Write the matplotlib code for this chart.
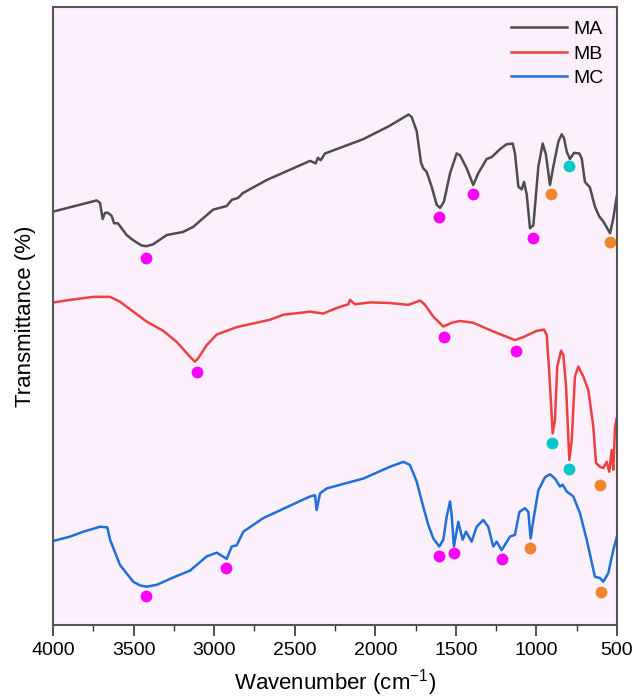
import matplotlib
matplotlib.use("Agg")
import matplotlib.pyplot as plt
from matplotlib.ticker import MultipleLocator

plt.rcParams['font.family'] = ['Liberation Sans', 'DejaVu Sans']

# ---- MA spectrum ----
ma_wn = [3998, 3729, 3708, 3692, 3677, 3659, 3636, 3621, 3597, 3543, 3510, 3481, 3450, 3419, 3379, 3294,
         3193, 3131, 3007, 2922, 2891, 2852, 2821, 2674, 2405, 2370, 2356, 2339, 2312, 2076,
         1909, 1794, 1774, 1743, 1716, 1702, 1681, 1650, 1619, 1598, 1574, 1536, 1495, 1474,
         1433, 1392, 1361, 1309, 1278, 1226, 1185, 1147, 1133, 1112, 1091, 1077, 1060, 1040,
         1019, 988, 961, 941, 916, 895, 864, 843, 829, 812, 792, 767, 734, 719, 699, 668,
         637, 610, 585, 543, 523, 502]
ma_t = [66.9, 68.7, 68.3, 65.7, 66.7, 66.7, 66.2, 65.0, 65.0, 63.1, 62.4, 61.9, 61.4, 61.3, 61.6, 63.1,
        63.6, 64.4, 67.2, 67.8, 68.8, 69.1, 69.9, 72.0, 75.1, 74.7, 75.6, 75.2, 76.3, 78.6,
        80.8, 82.6, 82.2, 79.9, 74.8, 73.9, 73.3, 70.9, 68.0, 67.5, 68.5, 73.1, 76.3, 76.0,
        73.9, 71.2, 73.1, 75.4, 75.7, 77.0, 77.8, 77.9, 76.3, 70.9, 70.5, 71.7, 69.6, 64.2,
        64.7, 74.2, 77.9, 76.1, 71.2, 74.2, 78.2, 79.4, 78.8, 76.6, 75.4, 76.4, 76.3, 75.5,
        71.7, 70.8, 67.7, 66.1, 65.3, 63.4, 65.8, 69.3]

# ---- MB spectrum ----
mb_wn = [3998, 3895, 3750, 3646, 3584, 3419, 3316, 3232, 3150, 3119, 3098, 3046, 2984, 2860,
         2653, 2571, 2405, 2323, 2239, 2167, 2157, 2126, 2033, 1909, 1795, 1722, 1691, 1640,
         1578, 1526, 1474, 1392, 1268, 1133, 1081, 998, 953, 936, 920, 899, 885, 871, 847,
         833, 816, 796, 781, 761, 740, 709, 678, 647, 630, 606, 585, 564, 548, 533, 523,
         512, 502]
mb_t = [52.2, 52.6, 53.1, 53.1, 52.3, 49.1, 47.6, 45.8, 43.4, 42.6, 43.2, 45.3, 47.0, 48.2,
        49.4, 50.2, 50.7, 50.4, 51.3, 51.9, 52.6, 51.9, 52.2, 52.1, 51.8, 52.5, 51.8, 49.9,
        48.3, 48.9, 49.2, 48.9, 47.5, 46.1, 46.6, 47.6, 47.8, 46.9, 40.7, 31.0, 33.2, 41.8,
        44.4, 43.7, 38.6, 26.7, 29.9, 40.2, 41.8, 40.2, 38.0, 32.1, 26.2, 25.6, 25.4, 26.4,
        24.8, 28.3, 25.1, 32.1, 33.4]

# ---- MC spectrum ----
mc_wn = [3998, 3895, 3812, 3708, 3663, 3646, 3584, 3502, 3460, 3419, 3356, 3253, 3150, 3046, 2984,
         2922, 2891, 2860, 2819, 2695, 2405, 2374, 2364, 2343, 2301, 2074, 1909, 1826, 1785,
         1743, 1702, 1671, 1640, 1603, 1578, 1557, 1536, 1526, 1512, 1485, 1458, 1437, 1402,
         1371, 1330, 1299, 1268, 1247, 1216, 1164, 1133, 1106, 1071, 1050, 1036, 1019, 988,
         947, 916, 885, 854, 837, 812, 771, 730, 688, 637, 606, 585, 554, 523, 502]
mc_t = [13.6, 14.3, 15.1, 15.9, 15.8, 13.8, 9.7, 7.0, 6.4, 6.2, 6.5, 7.7, 8.8, 11.1, 11.7,
        10.7, 12.7, 12.9, 15.1, 17.3, 20.8, 21.0, 18.6, 21.3, 22.1, 23.7, 25.6, 26.4, 25.9,
        23.2, 19.1, 16.2, 14.0, 12.7, 13.8, 17.5, 20.0, 17.8, 12.7, 16.7, 13.8, 15.1, 13.5,
        15.9, 17.0, 15.9, 12.7, 13.5, 12.1, 14.3, 14.6, 18.3, 18.9, 18.3, 14.0, 17.0, 21.8,
        23.9, 24.4, 23.7, 22.4, 22.7, 21.6, 20.8, 18.1, 13.8, 7.8, 7.6, 7.0, 8.4, 12.1, 14.2]

# ---- peak markers ----
mag_wn = [3423, 1603, 1392, 1023, 3106, 1572, 1129, 3423, 2926, 1603, 1512, 1216]
mag_t = [59.4, 66.0, 69.7, 62.6, 40.9, 46.6, 44.3, 4.7, 9.2, 11.2, 11.6, 10.7]
org_wn = [909, 543, 606, 1038, 599]
org_t = [69.7, 62.0, 22.7, 12.5, 5.3]
cyn_wn = [800, 901, 796]
cyn_t = [74.2, 29.4, 25.2]

labels = ['MA', 'MB', 'MC']
colors = ['#4d4d4d', '#ee4040', '#1f6fd8']

fig = plt.figure(figsize=(6.44, 7.0), dpi=100)
ax = fig.add_axes([53/644, 75/700, 564/644, 618/700])
ax.set_facecolor('#fcf0fc')

for wn, t, lab, c in zip([ma_wn, mb_wn, mc_wn], [ma_t, mb_t, mc_t], labels, colors):
    ax.plot(wn, t, color=c, lw=1.8, label=lab, solid_joinstyle='round')

ax.plot(mag_wn, mag_t, 'o', color='#ff00ff', ms=8.5, mec='none')
ax.plot(org_wn, org_t, 'o', color='#f0852d', ms=8.5, mec='none')
ax.plot(cyn_wn, cyn_t, 'o', color='#00c8c8', ms=8.5, mec='none')

ax.set_xlim(4000, 500)
ax.set_ylim(0, 100)
ax.xaxis.set_major_locator(MultipleLocator(500))
ax.xaxis.set_minor_locator(MultipleLocator(250))
ax.tick_params(axis='x', which='major', direction='out', length=8, width=1.2,
               labelsize=14, colors='#333333', labelcolor='black', pad=4)
ax.tick_params(axis='x', which='minor', direction='out', length=4, width=1.0, colors='#333333')
ax.set_yticks([])
for s in ax.spines.values():
    s.set_color('#555555')
    s.set_linewidth(1.5)

ax.set_xlabel('Wavenumber (cm$^{\\mathregular{-1}}$)', fontsize=16, labelpad=6)
ax.set_ylabel('Transmittance (%)', fontsize=16, labelpad=12)

ax.legend(loc='upper right', frameon=False, fontsize=14, handlelength=2.9,
          handletextpad=0.3, labelspacing=0.35, borderaxespad=0.3)

fig.savefig('out.png', dpi=100, facecolor='white')
